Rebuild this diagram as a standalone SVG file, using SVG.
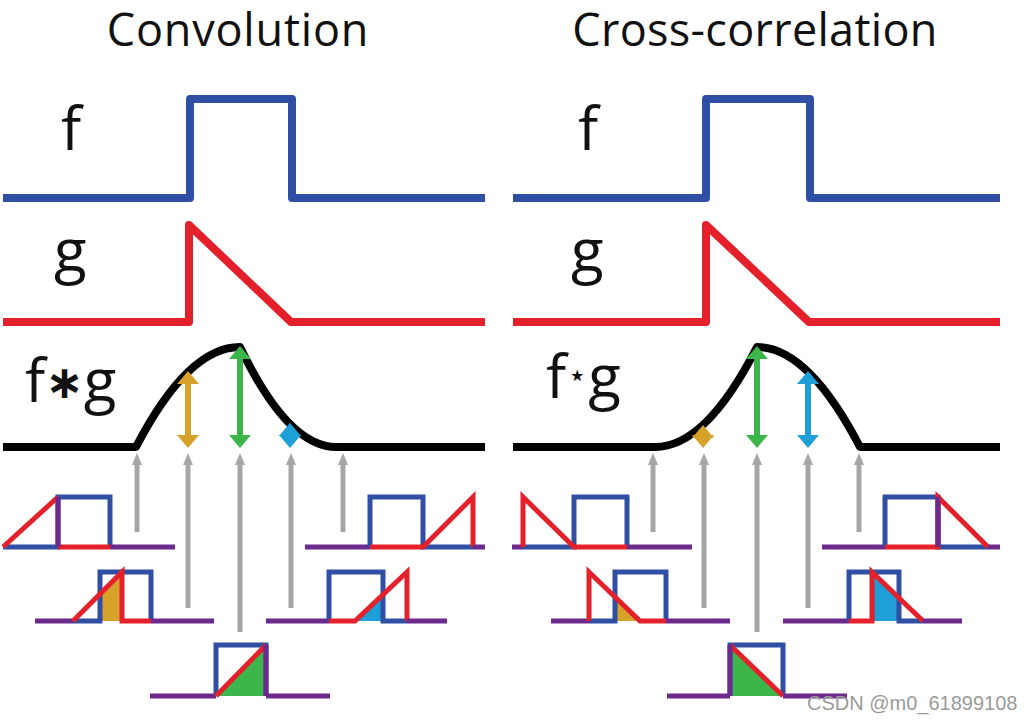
<svg xmlns="http://www.w3.org/2000/svg" width="1028" height="722" viewBox="0 0 1028 722">
<style>
.t{font-family:"Open Sans","Noto Sans","DejaVu Sans",sans-serif;fill:#111}
.big{fill:none;stroke-width:8;stroke-linejoin:round}
.s{fill:none;stroke-width:5;stroke-linejoin:miter}
.B{stroke:#2E4FA3}.R{stroke:#E4202A}.P{stroke:#6B2A8C}.K{stroke:#000}
.gr{stroke:#A6A6A6;stroke-width:5;fill:none}
.ca{stroke-width:6;fill:none}
</style>
<defs>
<marker id="hg" viewBox="0 0 12 10" refX="4" refY="5" markerWidth="12" markerHeight="10" markerUnits="userSpaceOnUse" orient="auto"><path d="M0,0 L12,5 L0,10 z" fill="#A6A6A6"/></marker>
<marker id="ho" viewBox="0 0 13 22" refX="6" refY="11" markerWidth="13" markerHeight="22" markerUnits="userSpaceOnUse" orient="auto-start-reverse"><path d="M0,0 L13,11 L0,22 z" fill="#D6A22A"/></marker>
<marker id="hn" viewBox="0 0 13 22" refX="6" refY="11" markerWidth="13" markerHeight="22" markerUnits="userSpaceOnUse" orient="auto-start-reverse"><path d="M0,0 L13,11 L0,22 z" fill="#3CB64A"/></marker>
<marker id="hc" viewBox="0 0 13 22" refX="6" refY="11" markerWidth="13" markerHeight="22" markerUnits="userSpaceOnUse" orient="auto-start-reverse"><path d="M0,0 L13,11 L0,22 z" fill="#1E9FD8"/></marker>
</defs>
<rect width="1028" height="722" fill="#fff"/>

<g id="title-convolution"><text class="t" x="238" y="46" font-size="45" letter-spacing="0.8" text-anchor="middle">Convolution</text></g>
<g id="title-crosscorrelation"><text class="t" x="755" y="46" font-size="45" letter-spacing="0.3" text-anchor="middle">Cross-correlation</text></g>

<g id="f-left"><text class="t" x="61" y="150" font-size="60">f</text><path class="big B" d="M3,198 H190 V99 H292 V198 H485"/></g>
<g id="g-left"><text class="t" x="54" y="272" font-size="60">g</text><path class="big R" d="M3,322 H189 V225 L291,322 H485"/></g>
<g id="fg-left"><text class="t" x="25" y="402" font-size="60">f<tspan font-family="DejaVu Sans" font-weight="bold" font-size="46" dy="-4">∗</tspan><tspan dy="4">g</tspan></text><path class="big K" d="M3,447 H136 Q188,347 240,347 Q288,447 336,447 H485"/></g>

<g id="f-right"><text class="t" x="578" y="150" font-size="60">f</text><path class="big B" d="M513,198 H706 V99 H810 V198 H1000"/></g>
<g id="g-right"><text class="t" x="571" y="272" font-size="60">g</text><path class="big R" d="M513,322 H706 V225 L809,322 H1000"/></g>
<g id="fg-right"><text class="t" x="546" y="398" font-size="60">f<tspan font-family="DejaVu Sans" font-size="32" dx="1" dy="-12">⋆</tspan><tspan dx="1" dy="12">g</tspan></text><path class="big K" d="M513,447 H655 Q706,447 757,347 Q808,347 860,447 H1000"/></g>

<g id="connectors">
<line class="ca" x1="188" y1="378" x2="188" y2="441" stroke="#D6A22A" marker-start="url(#ho)" marker-end="url(#ho)"/>
<line class="ca" x1="240" y1="353" x2="240" y2="441" stroke="#3CB64A" marker-start="url(#hn)" marker-end="url(#hn)"/>
<line class="ca" x1="290" y1="430" x2="290" y2="441" stroke="#1E9FD8" marker-start="url(#hc)" marker-end="url(#hc)"/>
<line class="ca" x1="703" y1="432" x2="703" y2="441" stroke="#D6A22A" marker-start="url(#ho)" marker-end="url(#ho)"/>
<line class="ca" x1="757" y1="353" x2="757" y2="441" stroke="#3CB64A" marker-start="url(#hn)" marker-end="url(#hn)"/>
<line class="ca" x1="808" y1="378" x2="808" y2="441" stroke="#1E9FD8" marker-start="url(#hc)" marker-end="url(#hc)"/>
<g class="gr">
<line x1="137" y1="532" x2="137" y2="461" marker-end="url(#hg)"/>
<line x1="188" y1="608" x2="188" y2="461" marker-end="url(#hg)"/>
<line x1="240" y1="632" x2="240" y2="461" marker-end="url(#hg)"/>
<line x1="291" y1="608" x2="291" y2="461" marker-end="url(#hg)"/>
<line x1="343" y1="532" x2="343" y2="461" marker-end="url(#hg)"/>
<line x1="653" y1="532" x2="653" y2="461" marker-end="url(#hg)"/>
<line x1="704" y1="608" x2="704" y2="461" marker-end="url(#hg)"/>
<line x1="757" y1="632" x2="757" y2="461" marker-end="url(#hg)"/>
<line x1="808" y1="608" x2="808" y2="461" marker-end="url(#hg)"/>
<line x1="859" y1="532" x2="859" y2="461" marker-end="url(#hg)"/>
</g>
</g>

<g id="conv-shift-1">
<path class="s B" d="M3,547 H58 V497 H110 V547"/>
<path class="s R" d="M3,547 L58,497 M58,547 H110"/>
<path class="s P" d="M58,497 V547 M110,547 H175"/>
</g>
<g id="conv-shift-2">
<path class="s P" d="M35,621 H73"/>
<polygon points="100,594 122,572 122,621 100,621" fill="#D6A22A"/>
<path class="s B" d="M73,621 H100 V572 H151 V621"/>
<path class="s R" d="M73,621 L122,572 V621 H151"/>
<path class="s P" d="M151,621 H214"/>
</g>
<g id="conv-shift-3">
<path class="s P" d="M150,696 H216"/>
<polygon points="216,696 266,645 266,696" fill="#3CB64A"/>
<path class="s B" d="M216,696 V645 H266 V696"/>
<path class="s R" d="M216,696 L266,645"/>
<path class="s P" d="M266,645 V696 M266,696 H330"/>
</g>
<g id="conv-shift-4">
<path class="s P" d="M266,621 H329"/>
<polygon points="355,621 383,595 383,621" fill="#1E9FD8"/>
<path class="s B" d="M329,621 V572 H383 V621 H407"/>
<path class="s R" d="M329,621 H355 L407,572 V621"/>
<path class="s P" d="M407,621 H447"/>
</g>
<g id="conv-shift-5">
<path class="s P" d="M305,547 H370"/>
<path class="s B" d="M370,547 V497 H423 V547 H473"/>
<path class="s R" d="M370,547 H423 L473,497 V547"/>
<path class="s P" d="M473,547 H485"/>
</g>

<g id="corr-shift-1">
<path class="s P" d="M512,547 H523"/>
<path class="s B" d="M523,547 H574 V497 H627 V547"/>
<path class="s R" d="M523,547 V497 L574,547 H627"/>
<path class="s P" d="M627,547 H692"/>
</g>
<g id="corr-shift-2">
<path class="s P" d="M551,621 H589"/>
<polygon points="615,597 640,621 615,621" fill="#D6A22A"/>
<path class="s B" d="M589,621 H615 V572 H666 V621"/>
<path class="s R" d="M589,621 V572 L640,621 H666"/>
<path class="s P" d="M666,621 H730"/>
</g>
<g id="corr-shift-3">
<path class="s P" d="M667,696 H730"/>
<polygon points="730,645 783,696 730,696" fill="#3CB64A"/>
<path class="s B" d="M730,696 V645 H783 V696"/>
<path class="s R" d="M730,645 L783,696"/>
<path class="s P" d="M730,645 V696 M783,696 H847"/>
</g>
<g id="corr-shift-4">
<path class="s P" d="M783,621 H849"/>
<polygon points="872,572 899,598 899,621 872,621" fill="#1E9FD8"/>
<path class="s B" d="M849,621 V572 H899 V621 H923"/>
<path class="s R" d="M849,621 H872 V572 L923,621"/>
<path class="s P" d="M923,621 H962"/>
</g>
<g id="corr-shift-5">
<path class="s P" d="M822,547 H885"/>
<path class="s B" d="M885,547 V497 H938 V547 H988"/>
<path class="s R" d="M885,547 H938 V497 L988,547"/>
<path class="s P" d="M938,497 V547 M988,547 H1000"/>
</g>

<g id="watermark"><text x="807" y="710" font-family="Liberation Sans, Arial, sans-serif" font-size="20" fill="#9a9a9a">CSDN @m0_61899108</text></g>
</svg>
